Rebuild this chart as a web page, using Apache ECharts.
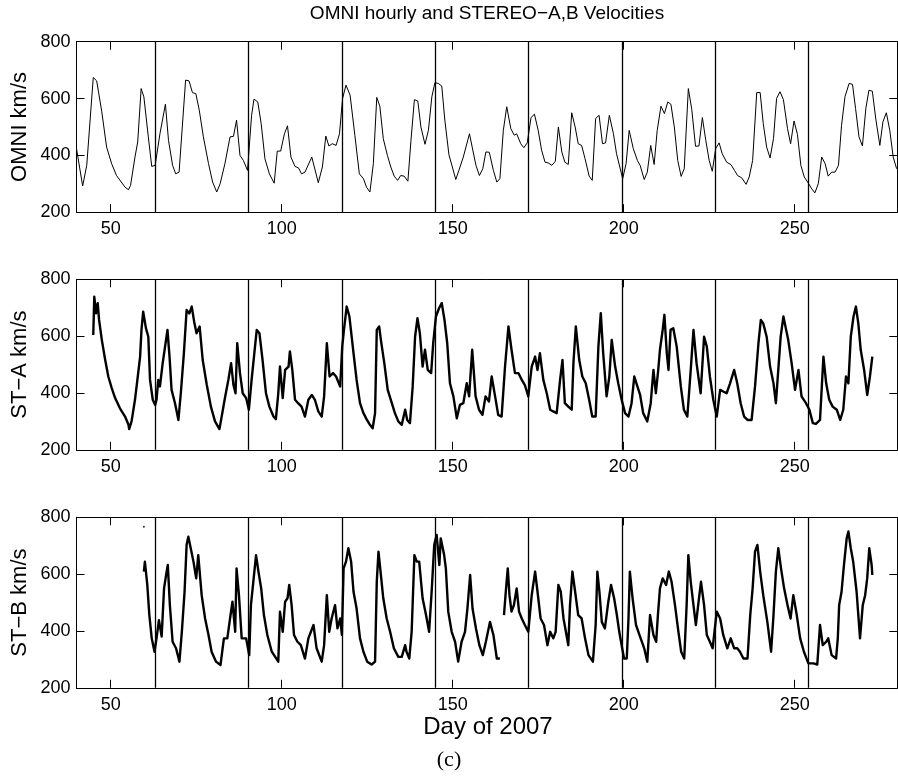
<!DOCTYPE html>
<html><head><meta charset="utf-8">
<script src="https://cdn.jsdelivr.net/npm/echarts@6/dist/echarts.min.js"></script>
<style>html,body{margin:0;padding:0;background:#fff}#c{width:898px;height:779px}</style>
</head><body><div id="c"></div>
<script>
const titleText = 'OMNI hourly and STEREO\u2212A,B Velocities';
const yNames = ['OMNI km/s', 'ST\u2212A km/s', 'ST\u2212B km/s'];
const xName = 'Day of 2007';
const caption = '(c)';
const xTicks = [50, 100, 150, 200, 250];
const yTicks = [200, 400, 600, 800];
const rotationDays = [63.0, 90.3, 117.6, 144.9, 172.2, 199.5, 226.8, 254.0];

const omni = [[40.0,424],[41.8,292],[43.0,365],[44.9,674],[45.9,662],[47.4,553],[48.8,429],[50.3,370],[51.7,329],[54.2,288],[55.2,279],[55.8,294],[57.1,394],[57.9,447],[58.9,635],[59.7,606],[61.0,465],[62.0,361],[63.0,365],[64.4,476],[66.0,580],[66.9,453],[68.1,365],[69.0,335],[70.0,341],[71.9,665],[72.9,662],[73.9,621],[74.9,617],[75.9,559],[77.1,465],[78.6,371],[79.8,306],[81.0,271],[82.0,300],[83.4,371],[84.9,465],[85.9,467],[86.8,524],[87.8,400],[88.8,382],[90.0,347],[91.2,541],[91.9,598],[93.0,588],[94.0,512],[95.1,388],[96.4,335],[97.8,302],[98.7,415],[99.7,415],[100.8,476],[101.7,504],[102.7,394],[103.9,361],[104.9,356],[105.8,335],[106.8,341],[108.8,394],[110.7,304],[111.9,359],[112.9,468],[113.8,433],[114.8,441],[115.9,435],[116.9,476],[117.8,600],[118.8,647],[120.0,612],[121.4,470],[122.7,335],[123.9,318],[124.8,288],[125.8,271],[126.8,371],[127.8,604],[128.7,573],[129.7,459],[130.9,400],[131.9,359],[132.9,327],[133.9,312],[134.8,329],[135.8,327],[136.9,309],[137.8,453],[138.8,596],[139.8,591],[140.7,500],[141.9,439],[142.9,488],[143.9,606],[144.8,656],[145.8,653],[146.8,644],[147.7,524],[148.9,402],[149.9,359],[150.9,315],[151.8,347],[153.1,394],[154.9,476],[155.7,429],[156.8,365],[157.8,329],[158.8,353],[159.7,412],[160.7,411],[161.9,347],[162.9,306],[163.8,318],[164.8,488],[165.8,571],[167.0,494],[168.0,471],[168.7,476],[169.9,441],[170.8,427],[171.8,444],[172.9,533],[173.9,545],[175.0,488],[176.0,418],[177.0,376],[178.0,373],[179.0,365],[180.0,379],[180.9,500],[181.9,412],[182.8,376],[183.8,368],[184.8,550],[185.8,500],[186.7,441],[187.7,435],[188.7,388],[189.9,327],[190.8,312],[191.8,530],[192.8,541],[193.8,441],[194.7,444],[195.8,541],[197.0,476],[197.9,406],[199.7,318],[200.7,371],[201.6,488],[202.8,424],[204.0,382],[204.8,365],[206.0,315],[206.9,341],[207.9,435],[208.9,368],[209.8,488],[210.9,573],[211.9,547],[212.9,588],[213.8,580],[214.8,500],[215.8,382],[216.8,326],[217.7,353],[218.9,635],[219.9,562],[221.0,432],[222.0,433],[223.0,533],[224.0,453],[225.0,382],[225.9,344],[226.9,424],[227.9,444],[228.8,406],[230.1,376],[231.4,367],[232.4,347],[233.3,329],[234.5,321],[235.8,298],[236.7,324],[237.7,382],[238.9,621],[239.9,621],[240.8,512],[241.8,429],[242.8,391],[243.8,459],[244.7,600],[245.7,624],[246.7,596],[247.9,494],[248.8,441],[249.8,521],[250.8,474],[251.8,365],[252.8,324],[254.0,302],[255.0,282],[255.9,268],[256.9,300],[257.9,394],[258.9,371],[259.8,327],[260.8,341],[261.8,341],[262.8,365],[263.7,506],[264.7,606],[265.9,653],[266.9,650],[267.8,565],[268.8,465],[269.8,433],[270.8,565],[271.7,629],[272.7,626],[273.7,529],[274.9,435],[275.8,518],[276.8,550],[277.8,488],[278.8,394],[279.8,353]];

const stA = [[44.9,604],[45.2,739],[45.7,680],[46.2,716],[46.6,657],[47.4,587],[48.3,522],[49.3,458],[50.3,417],[51.3,382],[52.7,346],[54.2,317],[55.2,288],[55.4,273],[56.1,300],[57.1,376],[57.8,446],[58.6,528],[59.0,622],[59.5,686],[60.3,628],[61.0,598],[61.5,446],[62.3,376],[63.0,358],[63.4,376],[63.9,446],[64.4,423],[65.2,505],[65.9,563],[66.6,622],[67.2,528],[67.8,411],[68.8,364],[69.8,305],[70.5,399],[71.4,540],[72.2,692],[73.0,680],[73.7,704],[74.4,651],[75.1,610],[76.0,634],[76.9,516],[78.1,428],[79.3,352],[80.5,300],[81.8,273],[82.8,341],[83.4,382],[84.4,446],[85.2,505],[85.9,428],[86.5,399],[87.0,575],[87.8,470],[88.6,399],[89.6,382],[90.4,341],[91.2,446],[92.0,540],[92.7,622],[93.5,610],[94.4,516],[95.4,399],[96.4,352],[97.6,317],[98.3,308],[99.0,399],[99.5,493],[100.3,382],[101.0,481],[102.0,493],[102.4,546],[103.1,481],[103.9,376],[104.8,364],[105.8,352],[106.8,317],[107.8,376],[108.8,393],[109.7,376],[110.7,335],[111.7,317],[112.4,388],[113.2,575],[114.0,458],[115.0,470],[115.9,458],[117.1,423],[117.7,563],[118.2,622],[119.0,704],[119.8,669],[121.0,540],[121.9,446],[122.9,364],[123.9,329],[124.8,308],[125.8,288],[126.6,276],[127.3,329],[127.8,622],[128.5,634],[129.0,587],[130.0,505],[131.0,411],[132.2,364],[133.1,329],[134.1,300],[135.1,288],[136.1,341],[136.7,305],[137.5,294],[138.3,423],[139.0,598],[139.7,663],[140.4,610],[141.2,493],[141.9,552],[142.7,481],[143.7,470],[144.3,575],[145.1,669],[146.0,698],[146.8,716],[147.6,657],[148.4,575],[149.2,434],[150.2,388],[151.2,311],[152.1,358],[153.1,364],[154.1,434],[154.8,388],[155.7,552],[156.7,388],[157.7,341],[158.7,323],[159.6,388],[160.6,370],[161.4,458],[162.4,388],[163.3,323],[164.3,317],[165.3,493],[166.3,634],[167.2,552],[168.2,470],[169.2,470],[170.2,446],[171.1,428],[172.1,388],[173.1,493],[174.1,528],[174.8,481],[175.5,540],[176.5,446],[177.5,399],[178.5,341],[179.4,335],[180.4,329],[181.4,446],[182.1,516],[182.8,364],[183.8,352],[184.8,341],[185.3,505],[186.0,634],[187.0,516],[187.9,458],[188.9,434],[189.9,376],[190.8,317],[191.8,317],[192.6,563],[193.3,681],[194.0,540],[195.0,388],[195.8,458],[196.5,587],[197.5,493],[198.4,434],[199.4,376],[200.4,329],[201.4,317],[202.3,364],[203.1,458],[204.0,423],[204.8,393],[205.7,329],[206.9,300],[207.9,364],[208.7,481],[209.4,399],[210.1,481],[210.6,552],[211.4,622],[211.9,675],[212.6,540],[213.1,481],[213.7,622],[214.5,628],[215.5,563],[216.7,423],[217.6,341],[218.6,317],[219.6,481],[220.4,622],[221.3,505],[222.5,399],[223.5,598],[224.3,563],[225.2,458],[226.2,376],[227.2,317],[228.2,411],[229.1,405],[230.1,399],[231.1,434],[232.3,481],[233.2,434],[234.2,364],[235.2,317],[236.2,305],[237.4,305],[238.4,423],[239.4,575],[240.1,657],[240.8,645],[241.8,598],[242.8,493],[243.8,434],[244.5,364],[245.2,481],[245.9,598],[246.7,669],[247.5,622],[248.1,587],[249.1,505],[250.1,411],[251.1,481],[252.0,388],[253.3,364],[254.3,341],[255.3,294],[256.2,291],[257.4,305],[258.4,528],[259.2,434],[260.1,376],[261.1,352],[262.3,341],[263.3,305],[264.2,341],[265.0,458],[265.7,434],[266.4,598],[267.2,669],[267.9,704],[268.6,645],[269.3,552],[270.3,481],[271.2,393],[272.0,458],[272.7,528]];

const stB = [[59.7,609],[60.0,644],[60.7,562],[61.3,456],[62.0,374],[62.8,327],[63.4,374],[64.1,438],[64.9,380],[65.6,550],[66.2,597],[66.7,632],[67.3,491],[68.1,362],[69.1,339],[70.1,292],[70.8,397],[71.6,538],[72.2,703],[72.7,732],[73.4,691],[74.2,644],[75.0,585],[75.6,667],[76.6,526],[77.6,444],[78.6,386],[79.5,327],[80.8,292],[82.1,280],[83.1,374],[84.1,374],[84.9,444],[85.6,503],[86.4,397],[86.8,620],[87.5,526],[88.3,374],[89.6,374],[90.5,315],[91.0,491],[91.7,573],[92.5,667],[93.2,609],[94.0,550],[94.8,456],[95.8,386],[97.1,327],[99.0,292],[99.5,468],[100.3,397],[101.0,503],[101.7,515],[102.2,562],[102.9,491],[103.6,386],[104.6,362],[105.6,350],[106.8,303],[107.8,374],[109.3,421],[110.2,339],[111.7,292],[112.4,350],[113.2,526],[113.9,397],[114.6,444],[115.6,491],[116.3,409],[117.1,444],[117.6,386],[118.1,620],[118.8,644],[119.5,691],[120.3,644],[121.0,538],[121.9,479],[122.9,374],[123.9,327],[125.0,292],[126.3,282],[127.3,292],[127.8,573],[128.3,679],[129.0,597],[129.7,515],[130.7,444],[131.7,397],[132.8,339],[134.1,309],[135.1,309],[136.1,350],[136.5,327],[137.3,303],[138.0,397],[138.8,667],[139.5,644],[140.2,644],[141.2,515],[142.2,456],[143.1,397],[143.9,550],[144.6,703],[145.3,738],[146.1,632],[146.5,726],[147.5,667],[148.0,620],[148.7,468],[149.7,397],[150.7,362],[151.6,292],[152.6,362],[153.6,397],[154.3,479],[155.1,597],[155.8,479],[156.8,409],[157.8,350],[158.8,315],[159.7,362],[160.9,432],[161.9,386],[162.9,303],[163.8,303],[164.4,null],[165.0,456],[165.6,550],[166.1,620],[166.6,526],[167.2,468],[167.9,491],[168.7,550],[169.4,468],[170.2,444],[171.1,421],[172.1,397],[173.1,526],[174.1,609],[174.8,538],[175.7,444],[176.7,421],[177.7,350],[178.5,397],[179.4,374],[180.1,397],[180.9,562],[181.6,538],[182.4,444],[183.1,397],[183.8,350],[184.3,491],[185.0,609],[185.8,538],[186.7,456],[187.7,444],[188.7,374],[189.7,315],[191.0,292],[191.8,421],[192.3,609],[192.9,538],[193.6,432],[194.5,409],[195.5,503],[196.3,562],[197.2,515],[198.0,456],[198.7,397],[199.4,350],[200.1,303],[200.9,303],[201.4,444],[201.8,609],[202.6,515],[203.6,421],[204.6,386],[206.0,339],[206.9,292],[207.7,456],[208.7,386],[209.5,362],[210.0,456],[210.6,550],[211.4,585],[212.4,562],[213.2,609],[214.0,573],[215.0,491],[216.0,397],[216.8,327],[217.7,303],[218.4,491],[218.9,667],[219.6,573],[220.4,491],[221.1,421],[221.9,503],[222.6,573],[223.5,491],[224.3,386],[225.2,362],[226.0,339],[227.2,468],[228.2,444],[229.1,386],[230.3,339],[231.3,374],[232.3,339],[233.2,339],[234.0,327],[235.0,303],[236.2,303],[237.0,456],[237.7,550],[238.4,679],[239.1,703],[239.9,609],[240.8,526],[242.0,432],[243.1,327],[243.8,456],[244.5,609],[245.2,691],[246.0,620],[246.9,550],[247.9,491],[248.8,444],[249.6,526],[250.6,456],[251.6,374],[252.7,327],[254.0,286],[255.5,286],[256.6,282],[257.4,421],[258.2,350],[259.2,362],[259.8,374],[260.8,315],[262.1,303],[262.6,374],[263.0,491],[263.7,538],[264.4,632],[265.2,726],[265.7,750],[266.4,691],[267.1,644],[268.1,538],[269.1,374],[269.9,491],[270.6,526],[271.2,585],[271.8,691],[272.5,632],[272.7,597]];
const stBStray = [[59.7,767]];

const FONT = '"Liberation Sans", Arial, Helvetica, sans-serif';
const gridTops = [41.7, 279.3, 517.3];
const gridH = 170.5;
const panels = [
  {data: omni, width: 1},
  {data: stA, width: 2.4},
  {data: stB, width: 2.4}
];

const grids = [], xAxes = [], yAxes = [], series = [], graphics = [];
gridTops.forEach((top, i) => {
  grids.push({left: 76.5, right: 0.7, top: top, height: gridH, show: false});
  const axLine = {show: true, onZero: false, lineStyle: {color: '#000', width: 1}};
  const tick = {show: true, inside: true, length: 8, lineStyle: {color: '#000', width: 1}};
  xAxes.push({gridIndex: i, type: 'value', min: 40, max: 280, position: 'bottom', z: 5,
    axisLine: axLine, splitLine: {show: false},
    axisTick: Object.assign({}, tick, {customValues: xTicks}),
    axisLabel: {customValues: xTicks, color: '#000', fontSize: 18, fontFamily: FONT, margin: 8}});
  xAxes.push({gridIndex: i, type: 'value', min: 40, max: 280, position: 'top', z: 5,
    axisLine: axLine, splitLine: {show: false},
    axisTick: Object.assign({}, tick, {customValues: xTicks}),
    axisLabel: {show: false}});
  yAxes.push({gridIndex: i, type: 'value', min: 200, max: 800, interval: 200, position: 'left', z: 5,
    axisLine: axLine, splitLine: {show: false},
    axisTick: Object.assign({}, tick, {customValues: yTicks}),
    axisLabel: {customValues: yTicks, color: '#000', fontSize: 18, fontFamily: FONT, margin: 6}});
  yAxes.push({gridIndex: i, type: 'value', min: 200, max: 800, interval: 200, position: 'right', z: 5,
    axisLine: axLine, splitLine: {show: false},
    axisTick: Object.assign({}, tick, {customValues: yTicks}),
    axisLabel: {show: false}});
  series.push({
    type: 'line', xAxisIndex: 2 * i, yAxisIndex: 2 * i, data: panels[i].data,
    showSymbol: false, symbol: 'none', connectNulls: false,
    lineStyle: {color: '#000', width: panels[i].width, join: 'round'},
    z: 3,
    markLine: {silent: true, symbol: ['none', 'none'], label: {show: false},
      lineStyle: {color: '#000', type: 'solid', width: 1.3},
      data: rotationDays.map(d => ({xAxis: d}))}
  });
  graphics.push({type: 'text', x: 20, y: top + gridH / 2, rotation: Math.PI / 2,
    style: {text: yNames[i], font: '22px ' + FONT, fill: '#000', align: 'center', verticalAlign: 'middle'}});
});
series.push({type: 'scatter', xAxisIndex: 4, yAxisIndex: 4, data: stBStray,
  symbol: 'circle', symbolSize: 2, itemStyle: {color: '#000'}, silent: true});

graphics.push({type: 'text', x: 487, y: 14,
  style: {text: titleText, font: '19px ' + FONT, fill: '#000', align: 'center', verticalAlign: 'middle'}});
graphics.push({type: 'text', x: 488, y: 727,
  style: {text: xName, font: '24px ' + FONT, fill: '#000', align: 'center', verticalAlign: 'middle'}});
graphics.push({type: 'text', x: 449, y: 760,
  style: {text: caption, font: '22px "Liberation Serif", "Times New Roman", serif', fill: '#000', align: 'center', verticalAlign: 'middle'}});

const chart = echarts.init(document.getElementById('c'), null, {renderer: 'canvas'});
chart.setOption({
  animation: false,
  backgroundColor: '#fff',
  grid: grids, xAxis: xAxes, yAxis: yAxes, series: series, graphic: graphics
});
</script></body></html>
